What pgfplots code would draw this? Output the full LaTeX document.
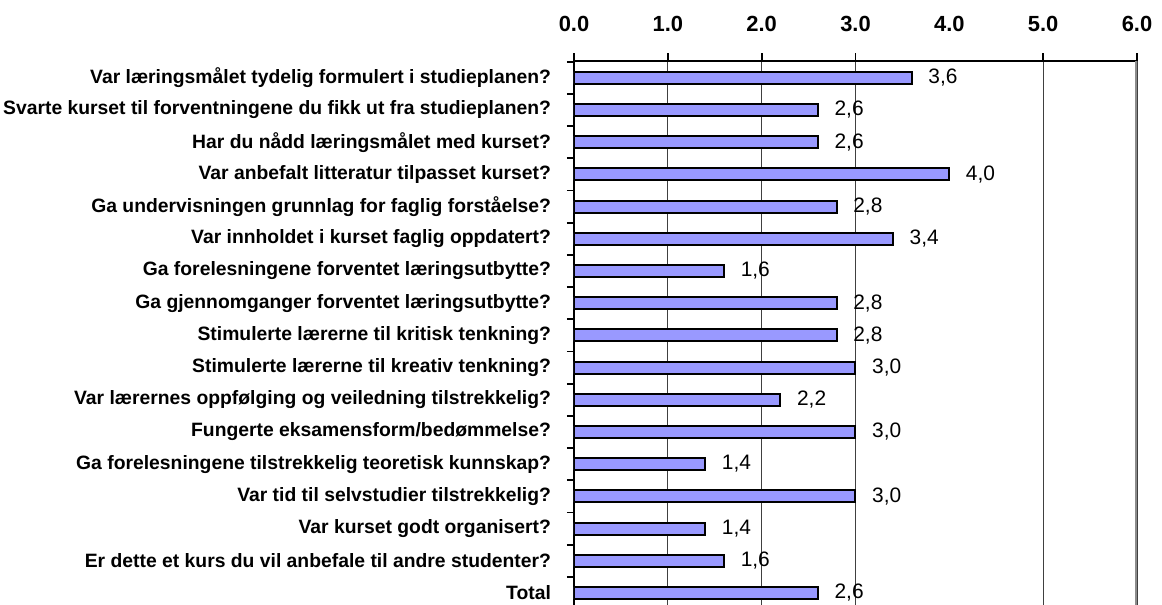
\documentclass[border=0pt]{standalone}
\usepackage{pgfplots}
\pgfplotsset{compat=1.18}
\usepackage{fontspec}
\setmainfont{Liberation Sans}
\definecolor{barfill}{HTML}{9999FF}

\begin{document}
\begin{tikzpicture}
\path[use as bounding box] (-287bp,0) rectangle (294bp,302.5bp);
\begin{axis}[
  at={(0,0)}, anchor=south west,
  scale only axis,
  width=281.5bp, height=272bp,
  xbar, bar width=6bp,
  xmin=0, xmax=6,
  ymin=-0.52, ymax=16.376,
  y dir=reverse,
  axis x line*=top, axis y line*=left,
  axis line style={black, line width=0.9bp},
  tick align=outside,
  tick style={black, line width=0.9bp},
  xtick={0,1,2,3,5,6},
  xticklabels={0.0,1.0,2.0,3.0,5.0,6.0},
  extra x ticks={4},
  extra x tick labels={4.0},
  extra x tick style={grid=none, tick style={draw=none}},
  major tick length=4bp,
  xmajorgrids,
  grid style={black!75, line width=0.6bp},
  xticklabel style={font=\bfseries\fontsize{11}{13}\selectfont, yshift=7bp},
  ytick={0,...,16},
  yticklabels={
    Var læringsmålet tydelig formulert i studieplanen?,
    Svarte kurset til forventningene du fikk ut fra studieplanen?,
    Har du nådd læringsmålet med kurset?,
    Var anbefalt litteratur tilpasset kurset?,
    Ga undervisningen grunnlag for faglig forståelse?,
    Var innholdet i kurset faglig oppdatert?,
    Ga forelesningene forventet læringsutbytte?,
    Ga gjennomganger forventet læringsutbytte?,
    Stimulerte lærerne til kritisk tenkning?,
    Stimulerte lærerne til kreativ tenkning?,
    Var lærernes oppfølging og veiledning tilstrekkelig?,
    Fungerte eksamensform/bedømmelse?,
    Ga forelesningene tilstrekkelig teoretisk kunnskap?,
    Var tid til selvstudier tilstrekkelig?,
    Var kurset godt organisert?,
    Er dette et kurs du vil anbefale til andre studenter?,
    Total},
  minor ytick={-0.5,0.5,...,15.5},
  major y tick style={draw=none},
  minor tick length=3.5bp,
  yticklabel style={font=\bfseries\fontsize{9.7}{11}\selectfont, xshift=-4bp},
  nodes near coords,
  nodes near coords style={font=\fontsize{10.5}{12}\selectfont, xshift=4.5bp,
    /pgf/number format/.cd, fixed, fixed zerofill, precision=1, use comma, assume math mode=true},
]
\addplot[fill=barfill, draw=black, line width=1bp] coordinates {
  (3.6,0) (2.6,1) (2.6,2) (4.0,3) (2.8,4) (3.4,5) (1.6,6) (2.8,7) (2.8,8)
  (3.0,9) (2.2,10) (3.0,11) (1.4,12) (3.0,13) (1.4,14) (1.6,15) (2.6,16)
};
\draw[black!45, line width=1.5bp] (rel axis cs:1,0) -- (rel axis cs:1,1);
\end{axis}
\end{tikzpicture}
\end{document}
